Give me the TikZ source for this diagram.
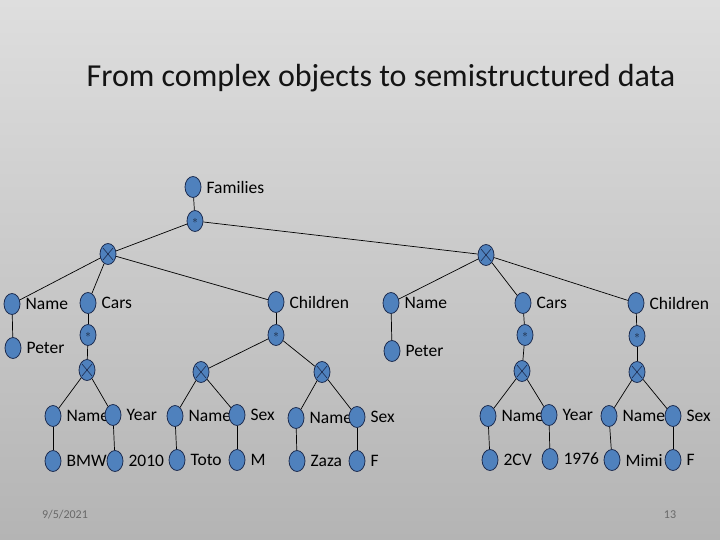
\documentclass[tikz,border=0pt]{standalone}
\usepackage{fontspec}
\setmainfont{Carlito}
\usetikzlibrary{shapes.geometric}
\definecolor{nodefill}{RGB}{79,129,189}
\definecolor{nodeedge}{RGB}{30,45,80}
\definecolor{bgtop}{RGB}{222,222,222}
\definecolor{bgbot}{RGB}{180,180,180}
\definecolor{foot}{RGB}{105,105,105}
\begin{document}
\begin{tikzpicture}[x=1pt,y=-1pt,
  v/.style={ellipse,draw=nodeedge,fill=nodefill,line width=0.8pt,minimum width=16pt,minimum height=21pt,inner sep=0pt},
  st/.style={v,font=\fontsize{11}{11}\selectfont,text={rgb,255:red,20;green,30;blue,50}},
  tu/.style={v,path picture={\draw[nodeedge,line width=0.6pt]
      ([shift={(-5,-6)}]path picture bounding box.center)--([shift={(5,6)}]path picture bounding box.center)
      ([shift={(5,-6)}]path picture bounding box.center)--([shift={(-5,6)}]path picture bounding box.center);}},
  lab/.style={font=\fontsize{17.5}{17.5}\selectfont,inner sep=0pt,text=black,label distance=5pt},
  e/.style={draw=black,line width=0.7pt}]
\shade[top color=bgtop,bottom color=bgbot] (0,0) rectangle (720,540);
\useasboundingbox (0,0) rectangle (720,540);

\node[font=\fontsize{32}{32}\selectfont,text={rgb,255:red,20;green,20;blue,20}] (title) at (381,78) {From complex objects to semistructured data};

% top
\node[v,label={[lab]right:Families}] (fam) at (193,187) {};
\node[st] (r) at (195,221) {$\ast$};
\node[tu] (t1) at (108,254) {};
\node[tu] (t2) at (486,255) {};

% left tuple
\node[v,label={[lab]right:Name}] (n1) at (12,304) {};
\node[v,label={[lab]right:Cars}] (c1) at (88,303) {};
\node[v,label={[lab]right:Children}] (ch1) at (276,302) {};
\node[v,label={[lab]right:Peter}] (p1) at (13,348) {};
\node[st] (cs1) at (88,335) {$\ast$};
\node[st] (chs1) at (276,335) {$\ast$};
\node[tu] (cx1) at (87,370) {};
\node[tu] (k1) at (201,372) {};
\node[tu] (k2) at (322,372) {};

% right tuple
\node[v,label={[lab]right:Name}] (n2) at (391,303) {};
\node[v,label={[lab]right:Cars}] (c2) at (523,303) {};
\node[v,label={[lab]right:Children}] (ch2) at (636,303) {};
\node[v,label={[lab]right:Peter}] (p2) at (392,351) {};
\node[st] (cs2) at (525,335) {$\ast$};
\node[st] (chs2) at (637,336) {$\ast$};
\node[tu] (cx2) at (522,371) {};
\node[tu] (k3) at (637,372) {};

% leaves
\node[v,label={[lab]right:Name}] (a1) at (53,416) {};
\node[v,label={[lab]right:Year}] (b1) at (113,415) {};
\node[v,label={[lab]right:BMW}] (a1v) at (53,461) {};
\node[v,label={[lab]right:2010}] (b1v) at (115,461) {};

\node[v,label={[lab]right:Name}] (a2) at (175,416) {};
\node[v,label={[lab]right:Sex}] (b2) at (237,415) {};
\node[v,label={[lab]right:Toto}] (a2v) at (177,460) {};
\node[v,label={[lab]right:M}] (b2v) at (237,460) {};

\node[v,label={[lab]right:Name}] (a3) at (296,418) {};
\node[v,label={[lab]right:Sex}] (b3) at (357,417) {};
\node[v,label={[lab]right:Zaza}] (a3v) at (297,461) {};
\node[v,label={[lab]right:F}] (b3v) at (357,461) {};

\node[v,label={[lab]right:Name}] (a4) at (488,416) {};
\node[v,label={[lab]right:Year}] (b4) at (549,415) {};
\node[v,label={[lab]right:2CV}] (a4v) at (490,460) {};
\node[v,label={[lab]right:1976}] (b4v) at (550,459) {};

\node[v,label={[lab]right:Name}] (a5) at (609,416) {};
\node[v,label={[lab]right:Sex}] (b5) at (673,416) {};
\node[v,label={[lab]right:Mimi}] (a5v) at (612,460) {};
\node[v,label={[lab]right:F}] (b5v) at (673,460) {};

% edges
\draw[e] (fam) -- (r);
\draw[e] (r) -- (t1);
\draw[e] (r) -- (t2);
\draw[e] (t1) -- (n1);
\draw[e] (t1) -- (c1);
\draw[e] (t1) -- (ch1);
\draw[e] (n1) -- (p1);
\draw[e] (c1) -- (cs1);
\draw[e] (cs1) -- (cx1);
\draw[e] (ch1) -- (chs1);
\draw[e] (chs1) -- (k1);
\draw[e] (chs1) -- (k2);
\draw[e] (t2) -- (n2);
\draw[e] (t2) -- (c2);
\draw[e] (t2) -- (ch2);
\draw[e] (n2) -- (p2);
\draw[e] (c2) -- (cs2);
\draw[e] (cs2) -- (cx2);
\draw[e] (ch2) -- (chs2);
\draw[e] (chs2) -- (k3);
\draw[e] (cx1) -- (a1);
\draw[e] (cx1) -- (b1);
\draw[e] (a1) -- (a1v);
\draw[e] (b1) -- (b1v);
\draw[e] (k1) -- (a2);
\draw[e] (k1) -- (b2);
\draw[e] (a2) -- (a2v);
\draw[e] (b2) -- (b2v);
\draw[e] (k2) -- (a3);
\draw[e] (k2) -- (b3);
\draw[e] (a3) -- (a3v);
\draw[e] (b3) -- (b3v);
\draw[e] (cx2) -- (a4);
\draw[e] (cx2) -- (b4);
\draw[e] (a4) -- (a4v);
\draw[e] (b4) -- (b4v);
\draw[e] (k3) -- (a5);
\draw[e] (k3) -- (b5);
\draw[e] (a5) -- (a5v);
\draw[e] (b5) -- (b5v);

% footer
\node[font=\fontsize{12}{12}\selectfont,text=foot] (date) at (65,515) {9/5/2021};
\node[font=\fontsize{12}{12}\selectfont,text=foot] (page) at (670,515) {13};
\end{tikzpicture}
\end{document}
